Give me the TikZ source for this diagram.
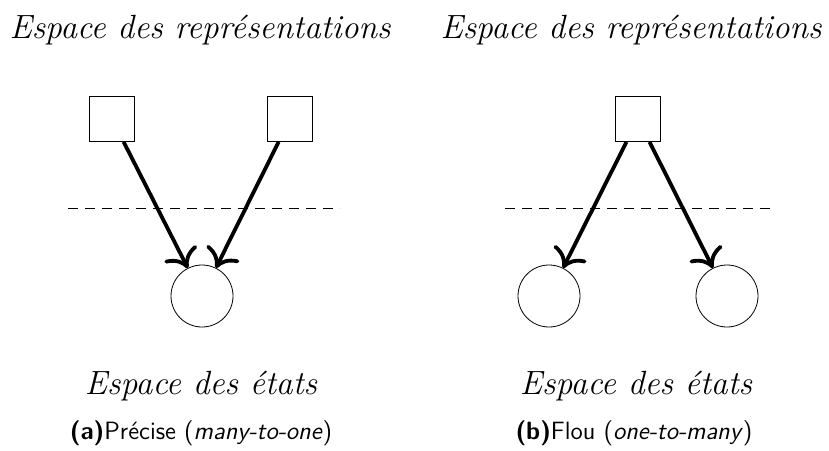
\documentclass[tikz,border=0pt]{standalone}
\usepackage{tikz}
\usetikzlibrary{arrows.meta}
\tikzset{
  repbox/.style={draw, minimum size=22.5pt, inner sep=0pt},
  etat/.style={draw, circle, minimum size=31pt, inner sep=0pt},
  fleche/.style={-{To[scale=1.5]}, line width=1.9pt},
  sep/.style={dash pattern=on 5pt off 3.5pt},
  titre/.style={anchor=base, font=\fontsize{16.8}{20}\selectfont\itshape},
  legende/.style={anchor=base, font=\fontsize{12.5}{15}\selectfont\sffamily}
}

\begin{document}
\begin{tikzpicture}[x=0.5pt, y=-0.5pt]
      \useasboundingbox (0,0) rectangle (829,450);
      \def\ry{119}
      \def\ey{296}
      \def\dy{208}

      % (a) many-to-one
      \node[titre] (ta) at (200,38) {Espace des représentations};
      \node[repbox] (ra1) at (112,\ry) {};
      \node[repbox] (ra2) at (290,\ry) {};
      \node[etat] (ea) at (202,\ey) {};
      \coordinate (da1) at (68,\dy);
      \coordinate (da2) at (340,\dy);
      \draw[sep] (da1) -- (da2);
      \draw[fleche] (ra1) -- (ea);
      \draw[fleche] (ra2) -- (ea);
      \node[titre] (sa) at (201,394) {Espace des états};
      \node[legende] (ca) at (201,439) {\textbf{(a)}Précise (\textit{many-to-one})};

      % (b) one-to-many
      \node[titre] (tb) at (631,38) {Espace des représentations};
      \node[repbox] (rb) at (638,\ry) {};
      \node[etat] (eb1) at (549,\ey) {};
      \node[etat] (eb2) at (727,\ey) {};
      \coordinate (db1) at (505,\dy);
      \coordinate (db2) at (772,\dy);
      \draw[sep] (db1) -- (db2);
      \draw[fleche] (rb) -- (eb1);
      \draw[fleche] (rb) -- (eb2);
      \node[titre] (sb) at (636,394) {Espace des états};
      \node[legende] (cb) at (634,439) {\textbf{(b)}Flou (\textit{one-to-many})};
    \end{tikzpicture}
\end{document}
